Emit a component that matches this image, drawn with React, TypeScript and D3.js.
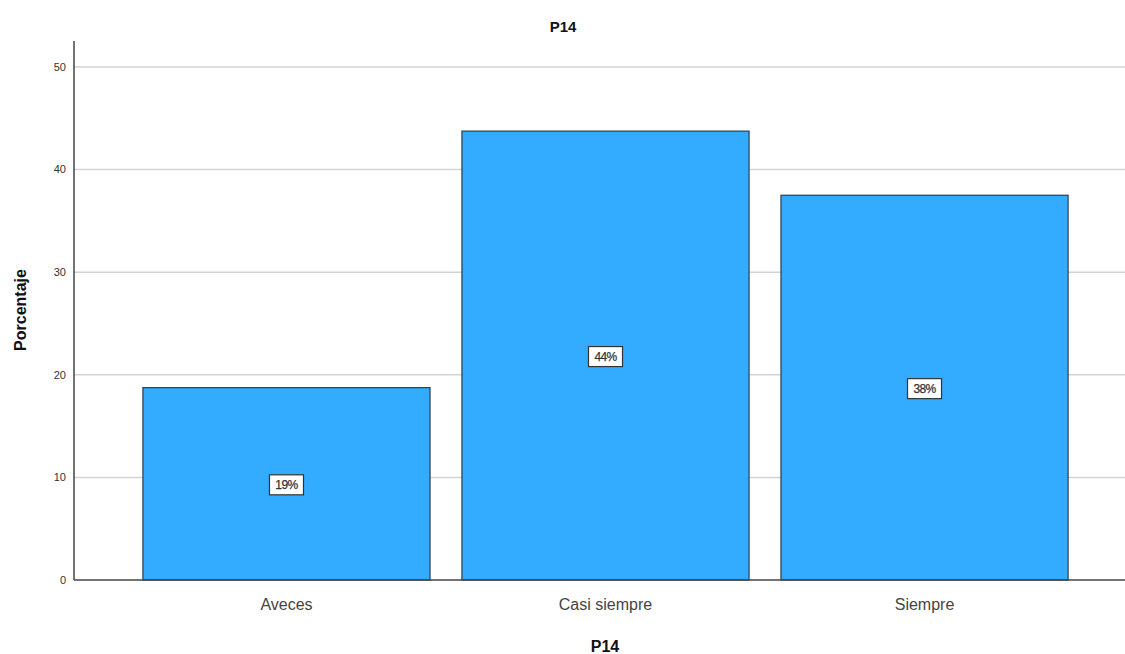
import React from "react";
import * as d3 from "d3";

const categories = ["Aveces", "Casi siempre", "Siempre"];
const values = [18.75, 43.75, 37.5];
const pctLabels = ["19%", "44%", "38%"];
const yTicks = [0, 10, 20, 30, 40, 50];

export default function App() {
  const W = 1125, H = 654;
  const x0 = 74, yTop = 41, yBottom = 580;
  const y = d3.scaleLinear().domain([0, 50]).range([yBottom, 67]);
  const x = d3.scaleBand<string>().domain(categories).range([x0, 1137]).paddingInner(0.1).paddingOuter(0.216);
  const font = "Arial, 'Liberation Sans', sans-serif";
  return (
    <svg width={W} height={H} style={{ position: "absolute", left: 0, top: 0, background: "#fff" }} fontFamily={font}>
      {yTicks.filter(t => t > 0).map(t => (
        <line key={"g" + t} x1={x0} x2={W} y1={y(t)} y2={y(t)} stroke="#d3d3d3" strokeWidth={1.5} />
      ))}
      {yTicks.map(t => (
        <text key={"t" + t} x={66} y={y(t)} dy="0.35em" textAnchor="end" fontSize={11} fill="#333">{t}</text>
      ))}
      {categories.map((c, i) => {
        const bx = x(c)!;
        const bw = x.bandwidth();
        const by = y(values[i]);
        const cy = (by + yBottom) / 2 + 1;
        return (
          <g key={c}>
            <rect x={bx} y={by} width={bw} height={yBottom - by} fill="#33abff" stroke="#2b3d4f" strokeWidth={1.2} />
            <rect x={bx + bw / 2 - 17} y={cy - 10} width={34} height={20} fill="#fff" stroke="#333" strokeWidth={1.2} />
            <text x={bx + bw / 2} y={cy} dy="0.35em" textAnchor="middle" fontSize={12} fill="#333" letterSpacing={-0.6} stroke="#333" strokeWidth={0.25}>{pctLabels[i]}</text>
            <text x={bx + bw / 2} y={604} dy="0.35em" textAnchor="middle" fontSize={16} fill="#444">{c}</text>
          </g>
        );
      })}
      <line x1={x0} x2={x0} y1={yTop} y2={yBottom} stroke="#444" strokeWidth={1.5} />
      <line x1={x0} x2={W} y1={yBottom} y2={yBottom} stroke="#444" strokeWidth={1.5} />
      <text x={563} y={27} dy="0.35em" textAnchor="middle" fontSize={15} fontWeight="bold" fill="#111">P14</text>
      <text x={605} y={646} dy="0.35em" textAnchor="middle" fontSize={16} fontWeight="bold" fill="#111">P14</text>
      <text transform={`translate(20,${310}) rotate(-90)`} dy="0.35em" textAnchor="middle" fontSize={16} fontWeight="bold" fill="#111">Porcentaje</text>
    </svg>
  );
}
